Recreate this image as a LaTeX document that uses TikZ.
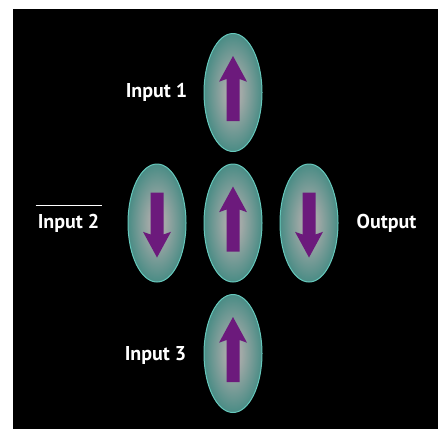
\documentclass[tikz,border=0pt]{standalone}
\usepackage{fontspec}
\setmainfont{PT Sans}
\usetikzlibrary{shapes.geometric,positioning}

\definecolor{cellrim}{HTML}{66C8BC}
\definecolor{cellcore}{HTML}{A2A9A7}
\definecolor{celledge}{HTML}{4A8C85}
\definecolor{spinpurple}{HTML}{6C1A7C}

% grey core fading to teal at the rim
\pgfdeclareradialshading{cellglow}{\pgfpoint{0bp}{0bp}}{color(0bp)=(cellcore); color(7bp)=(cellcore); color(25bp)=(celledge); color(50bp)=(celledge)}

\tikzstyle{cell} = [ellipse, draw=cellrim, line width=1pt, shading=cellglow, minimum width=58pt, minimum height=118pt, inner sep=0pt]
\tikzstyle{lbl} = [text=white, font=\fontsize{20}{24}\selectfont\bfseries, inner sep=0pt]
\tikzstyle{spinfill} = [fill=spinpurple]

\tikzset{
  pics/spinup/.style={code={
    \fill[spinfill] (-6.5,28.5) -- (-6.5,-13.5) -- (-14,-10.8) -- (0,-36.5)
      -- (14,-10.8) -- (6.5,-13.5) -- (6.5,28.5) -- cycle;
  }}
}

\begin{document}
\begin{tikzpicture}[x=1pt, y=-1pt]
    \fill[white] (0,0) rectangle (438,429);
    \fill[black] (13,9) rectangle (438,429);

    % cells
    \node[cell] (cmid) at (233,223) {};
    \node[cell, above=11.5pt of cmid] (c1) {};
    \node[cell, below=11.5pt of cmid] (c3) {};
    \node[cell, left=17pt of cmid] (c2) {};
    \node[cell, right=17pt of cmid] (cout) {};

    % spins
    \pic at (c1.center) {spinup};
    \pic at (cmid.center) {spinup};
    \pic at (c3.center) {spinup};
    \pic[rotate=180] at ([yshift=2pt]c2.center) {spinup};
    \pic[rotate=180] at ([yshift=2pt]cout.center) {spinup};

    % labels
    \node[lbl, left=16pt of c1] (in1) {Input 1};
    \node[lbl, left=28pt of c2] (in2) {Input 2};
    \node[lbl, right=18pt of cout] (outl) {Output};
    \node[lbl, left=17pt of c3, yshift=-2pt] (in3) {Input 3};
    \draw[white, line width=1.2pt] ([xshift=-2pt, yshift=8pt]in2.north west) -- ([xshift=2pt, yshift=8pt]in2.north east);
\end{tikzpicture}
\end{document}
